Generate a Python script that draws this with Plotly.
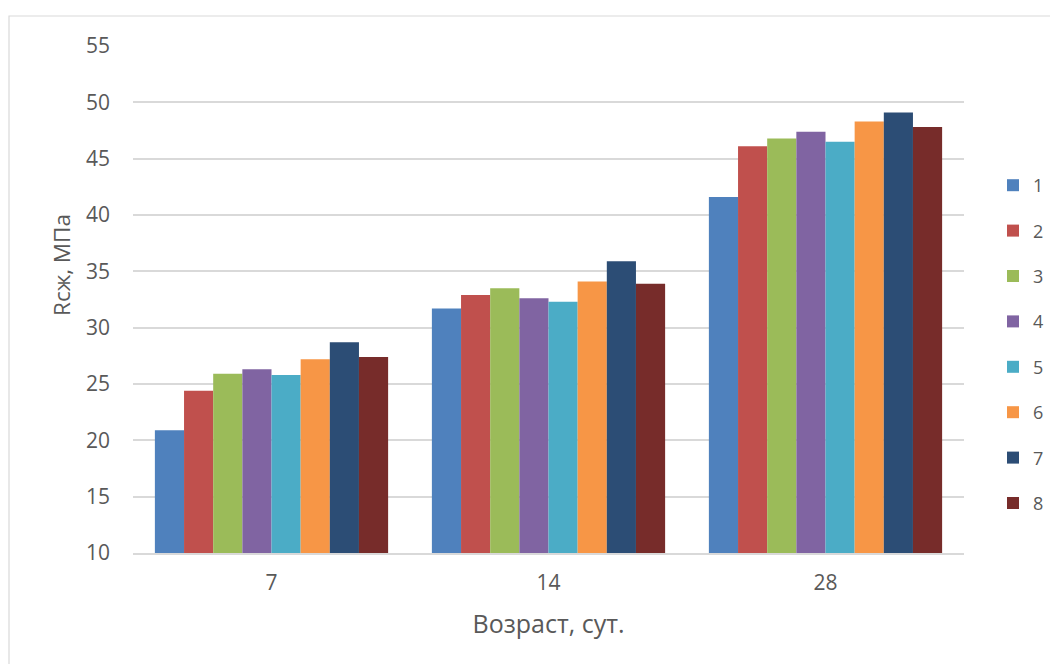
import plotly.graph_objects as go

# Compressive strength (MPa) by curing age, for eight mixes
ages = ["7", "14", "28"]
mixes = ["1", "2", "3", "4", "5", "6", "7", "8"]
strength = {
    "1": [20.9, 31.7, 41.6],
    "2": [24.4, 32.9, 46.1],
    "3": [25.9, 33.5, 46.8],
    "4": [26.3, 32.6, 47.4],
    "5": [25.8, 32.3, 46.5],
    "6": [27.2, 34.1, 48.3],
    "7": [28.7, 35.9, 49.1],
    "8": [27.4, 33.9, 47.8],
}
colors = ["#4F81BD", "#C0504D", "#9BBB59", "#8064A2",
          "#4BACC6", "#F79646", "#2C4D75", "#772C2A"]
y_ticks = [10, 15, 20, 25, 30, 35, 40, 45, 50, 55]

FONT = "Open Sans"
GREY = "#595959"

fig = go.Figure()
for name, col in zip(mixes, colors):
    fig.add_trace(go.Bar(
        x=ages, y=strength[name], name=name, legendgroup=name,
        marker=dict(color=col, line=dict(width=0)),
    ))

W, H = 1050, 664
L, R, T, B = 133, 964, 46, 553
pw, ph = R - L, B - T

def px_x(p):
    return (p - L) / pw

def px_y(p):
    return (B - p) / ph

fig.update_layout(
    width=W, height=H,
    margin=dict(l=L, r=W - R, t=T, b=H - B, autoexpand=False),
    paper_bgcolor="white", plot_bgcolor="white",
    barmode="group", bargap=0.158, bargroupgap=0,
    font=dict(family=FONT, color=GREY, size=18),
    xaxis=dict(
        title=dict(text="Возраст, сут.", font=dict(size=25, color=GREY), standoff=21),
        showgrid=False, showline=True, linecolor="#D9D9D9", linewidth=1.5,
        ticks="", ticklabelstandoff=10, tickfont=dict(size=21, color=GREY),
    ),
    yaxis=dict(
        range=[10, 55], tickvals=y_ticks, showgrid=True,
        gridcolor="#D9D9D9", gridwidth=1.5, zeroline=False, showline=False,
        ticks="", ticklabelstandoff=22, tickfont=dict(size=21, color=GREY),
    ),
    legend=dict(
        x=px_x(993), xanchor="left", y=px_y(344.5), yanchor="middle",
        font=dict(size=18, color=GREY), tracegroupgap=19,
        bgcolor="rgba(0,0,0,0)",
    ),
    annotations=[dict(
        text="Rcж, МПа", textangle=-90, showarrow=False,
        xref="paper", yref="paper", x=px_x(61), y=px_y(265),
        xanchor="center", yanchor="middle",
        font=dict(size=22.5, color=GREY, family=FONT),
    )],
    shapes=[dict(
        type="rect", xref="paper", yref="paper", layer="below",
        x0=px_x(9), x1=px_x(1060), y0=px_y(680), y1=px_y(16),
        line=dict(color="#D9D9D9", width=1.2), fillcolor="rgba(0,0,0,0)",
    )],
)

fig.write_html("out.html")
